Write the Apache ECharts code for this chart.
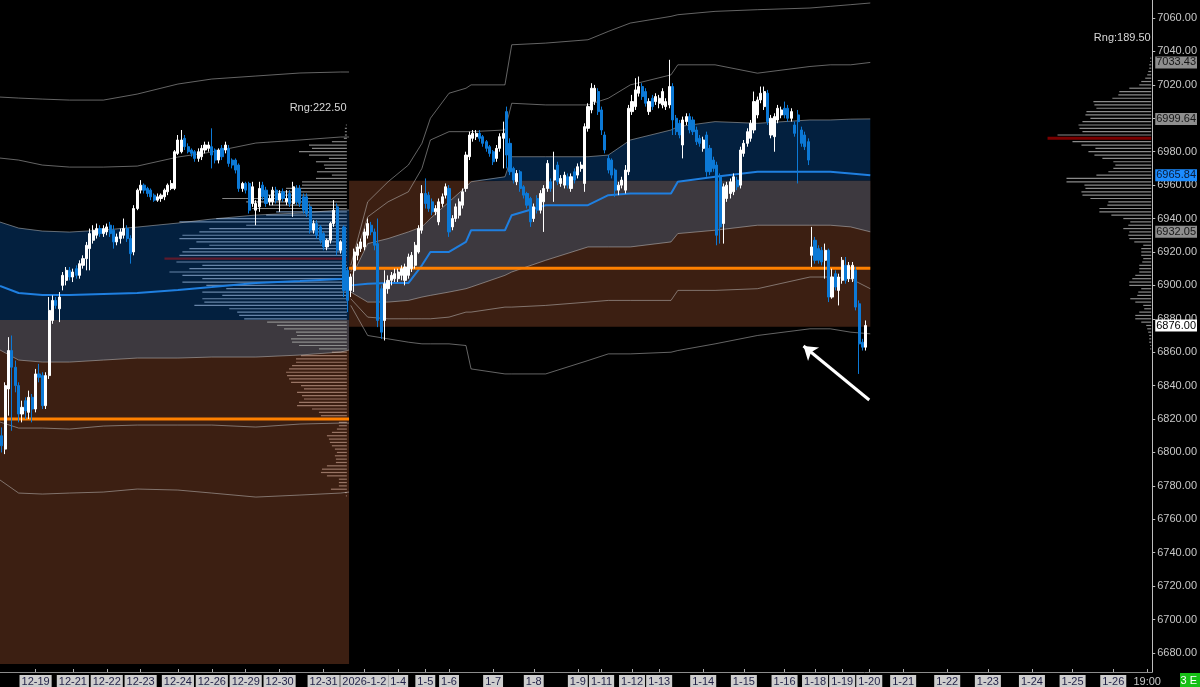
<!DOCTYPE html>
<html>
<head>
<meta charset="utf-8">
<script src="https://cdn.jsdelivr.net/npm/echarts@6/dist/echarts.min.js"></script>
<style>
  html, body { margin: 0; padding: 0; background: #000; }
  #chart { width: 1200px; height: 687px; }
</style>
</head>
<body>
<div id="chart"></div>
<script>
// price axis labels
const yTicks = [6680, 6700, 6720, 6740, 6760, 6780, 6800, 6820, 6840, 6860, 6880, 6900, 6920, 6940, 6960, 6980, 7000, 7020, 7040, 7060]

// day labels and the bar slot where each day starts
const dayLabels = ['12-19', '12-21', '12-22', '12-23', '12-24', '12-26', '12-29', '12-30', '12-31', '2026-1-2', '1-4', '1-5', '1-6', '1-7', '1-8', '1-9', '1-11', '1-12', '1-13', '1-14', '1-15', '1-16', '1-18', '1-19', '1-20', '1-21', '1-22', '1-23', '1-24', '1-25', '1-26', '19:00']
const daySlots = [10, 21, 31, 41, 52, 62, 72, 82, 95, 107, 117, 125, 132, 145, 157, 170, 177, 186, 194, 207, 219, 231, 240, 248, 256, 266, 279, 291, 304, 316, 328, 338]

// bars: [open, close, low, high]
const decBars = [
  [6810, 6804, 6800, 6815], [6802, 6840, 6799, 6842], [6838, 6861, 6822, 6869], [6861, 6851, 6813, 6870], [6851, 6840, 6836, 6855],
  [6840, 6823, 6818, 6842], [6823, 6827, 6818, 6831], [6831, 6825, 6820, 6833], [6824, 6833, 6820, 6837], [6833, 6826, 6818, 6835],
  [6826, 6847, 6824, 6850], [6847, 6845, 6842, 6853], [6846, 6828, 6826, 6848], [6828, 6846, 6826, 6848], [6846, 6885, 6844, 6893],
  [6879, 6891, 6877, 6894], [6891, 6888, 6886, 6893], [6886, 6893, 6878, 6896], [6900, 6906, 6897, 6908], [6903, 6909, 6900, 6911],
  [6909, 6905, 6903, 6911], [6905, 6908, 6902, 6910], [6910, 6906, 6904, 6912], [6906, 6913, 6904, 6915], [6912, 6916, 6910, 6918],
  [6916, 6924, 6909, 6926], [6922, 6931, 6909, 6934], [6927, 6933, 6925, 6936], [6930, 6934, 6928, 6937], [6934, 6931, 6929, 6936],
  [6931, 6934, 6929, 6936], [6932, 6935, 6930, 6937], [6936, 6931, 6929, 6938], [6933, 6926, 6922, 6936], [6926, 6929, 6924, 6931],
  [6928, 6932, 6925, 6934], [6930, 6934, 6928, 6940], [6934, 6928, 6926, 6936], [6928, 6919, 6913, 6930], [6920, 6946, 6918, 6948],
  [6946, 6957, 6945, 6958], [6957, 6960, 6955, 6963], [6960, 6957, 6955, 6961], [6958, 6955, 6953, 6959], [6957, 6953, 6951, 6958],
  [6954, 6951, 6950, 6955], [6951, 6953, 6950, 6955], [6952, 6954, 6950, 6955], [6953, 6957, 6951, 6958], [6956, 6960, 6954, 6961],
  [6958, 6961, 6957, 6963], [6958, 6980, 6957, 6981], [6979, 6987, 6978, 6990], [6980, 6987, 6979, 6993], [6988, 6983, 6981, 6990],
  [6983, 6980, 6979, 6985], [6981, 6979, 6977, 6982], [6980, 6976, 6974, 6981], [6976, 6980, 6974, 6982], [6977, 6982, 6975, 6984],
  [6981, 6984, 6979, 6986], [6982, 6984, 6980, 6986], [6983, 6978, 6970, 6994], [6981, 6975, 6973, 6982], [6975, 6981, 6973, 6982],
  [6982, 6977, 6975, 6984], [6981, 6984, 6979, 6986], [6982, 6973, 6971, 6984], [6975, 6972, 6970, 6976], [6975, 6969, 6967, 6976],
  [6972, 6958, 6956, 6973], [6958, 6961, 6956, 6962], [6961, 6957, 6955, 6962], [6961, 6945, 6943, 6962], [6949, 6959, 6947, 6962],
  [6945, 6949, 6936, 6951], [6947, 6958, 6944, 6962], [6960, 6953, 6951, 6962], [6957, 6949, 6947, 6959], [6950, 6952, 6948, 6954],
  [6950, 6957, 6948, 6959], [6957, 6951, 6949, 6959], [6951, 6955, 6944, 6957], [6956, 6952, 6950, 6958], [6950, 6952, 6948, 6957],
  [6955, 6949, 6947, 6957], [6949, 6959, 6941, 6962], [6958, 6950, 6948, 6960], [6958, 6949, 6947, 6960], [6953, 6945, 6943, 6955],
  [6953, 6943, 6941, 6955], [6947, 6933, 6931, 6949], [6933, 6937, 6931, 6939], [6937, 6930, 6928, 6939], [6935, 6927, 6925, 6936],
  [6931, 6923, 6921, 6932], [6923, 6927, 6921, 6928], [6927, 6937, 6925, 6938], [6937, 6945, 6935, 6951], [6947, 6921, 6918, 6949],
  [6921, 6926, 6919, 6927], [6935, 6897, 6893, 6936], [6909, 6891, 6884, 6911]
]
const janBars = [
  [6897, 6905, 6893, 6907], [6909, 6920, 6896, 6922],
  [6918, 6923, 6915, 6925], [6922, 6926, 6920, 6928], [6923, 6932, 6921, 6934], [6930, 6937, 6928, 6940], [6936, 6932, 6930, 6938],
  [6932, 6924, 6921, 6934], [6925, 6879, 6875, 6940], [6898, 6872, 6868, 6900], [6879, 6901, 6867, 6909], [6898, 6903, 6895, 6906],
  [6903, 6906, 6900, 6908], [6904, 6907, 6902, 6910], [6904, 6908, 6902, 6910], [6906, 6910, 6903, 6912], [6903, 6911, 6900, 6913],
  [6906, 6917, 6904, 6919], [6910, 6918, 6908, 6920], [6912, 6924, 6910, 6926], [6920, 6934, 6919, 6936], [6933, 6955, 6931, 6960],
  [6955, 6949, 6946, 6964], [6954, 6946, 6944, 6956], [6950, 6944, 6942, 6952], [6944, 6946, 6942, 6948], [6938, 6950, 6936, 6952],
  [6949, 6953, 6947, 6955], [6954, 6959, 6952, 6961], [6958, 6932, 6929, 6960], [6935, 6940, 6933, 6942], [6940, 6947, 6938, 6949],
  [6942, 6950, 6940, 6952], [6948, 6956, 6946, 6958], [6958, 6978, 6956, 6980], [6977, 6990, 6975, 6992], [6988, 6991, 6986, 6993],
  [6989, 6991, 6987, 6993], [6991, 6988, 6986, 6993], [6989, 6985, 6983, 6990], [6986, 6982, 6980, 6987], [6983, 6979, 6977, 6984],
  [6980, 6974, 6972, 6981], [6976, 6982, 6974, 6984], [6982, 6989, 6980, 6991], [6988, 6991, 6970, 6998], [7004, 6978, 6970, 7007],
  [6985, 6968, 6966, 6988], [6970, 6963, 6961, 6971], [6962, 6967, 6960, 6969], [6968, 6958, 6956, 6969], [6959, 6954, 6952, 6960],
  [6955, 6948, 6946, 6956], [6952, 6938, 6935, 6953], [6940, 6947, 6938, 6949], [6952, 6945, 6943, 6954], [6945, 6955, 6943, 6957],
  [6950, 6958, 6932, 6960], [6958, 6973, 6956, 6975], [6962, 6958, 6956, 6964], [6963, 6969, 6950, 6980], [6972, 6962, 6960, 6974],
  [6961, 6964, 6959, 6966], [6960, 6966, 6958, 6968], [6965, 6960, 6958, 6967], [6958, 6965, 6956, 6967], [6968, 6963, 6961, 6970],
  [6966, 6971, 6964, 6973], [6970, 6972, 6968, 6974], [6961, 6995, 6956, 6997], [6994, 7007, 6992, 7009], [7005, 7018, 7003, 7021],
  [7010, 7018, 7008, 7020], [7016, 7004, 7002, 7018], [7005, 6993, 6990, 7007], [6990, 6981, 6979, 6992], [6976, 6969, 6967, 6978],
  [6975, 6966, 6964, 6976], [6969, 6957, 6953, 6970], [6957, 6960, 6954, 6962], [6960, 6963, 6958, 6965], [6957, 6969, 6955, 6972],
  [6968, 7006, 6966, 7008], [7004, 7010, 7002, 7014], [7007, 7017, 7005, 7024], [7015, 7019, 7013, 7025], [7019, 7013, 7011, 7021],
  [7016, 7009, 7007, 7018], [7004, 7010, 7002, 7012], [7012, 7007, 7005, 7014], [7010, 7013, 7008, 7015], [7009, 7012, 7006, 7014],
  [7008, 7016, 7006, 7018], [7007, 7010, 7005, 7012], [7008, 7019, 7006, 7035], [7019, 6999, 6990, 7021], [7000, 6992, 6990, 7002],
  [6997, 6990, 6988, 6999], [6984, 6999, 6976, 7001], [6998, 7001, 6996, 7003], [7001, 6993, 6991, 7003], [6999, 6992, 6990, 7001],
  [6993, 6986, 6984, 6995], [6988, 6985, 6983, 6990], [6982, 6987, 6980, 6989], [6990, 6968, 6965, 6992], [6982, 6968, 6966, 6984],
  [6975, 6970, 6968, 6977], [6972, 6930, 6924, 6974], [6965, 6935, 6925, 6967], [6937, 6959, 6925, 6961], [6952, 6960, 6950, 6962],
  [6955, 6962, 6952, 6964], [6956, 6965, 6954, 6967], [6963, 6959, 6957, 6965], [6960, 6981, 6958, 6983], [6979, 6985, 6977, 6987],
  [6985, 6992, 6983, 6994], [6988, 6997, 6986, 6999], [6993, 7010, 6991, 7016], [7002, 7011, 7000, 7013], [7011, 7015, 7009, 7019],
  [7007, 7016, 7005, 7019], [7015, 6998, 6996, 7017], [6990, 7000, 6988, 7002], [6989, 7001, 6980, 7003], [6999, 7006, 6997, 7008],
  [7002, 7005, 7000, 7007], [7006, 7002, 7000, 7010], [7006, 7000, 6998, 7008], [7000, 7004, 6998, 7006], [6996, 6991, 6989, 6998],
  [7002, 6998, 6961, 7005], [6993, 6985, 6983, 6995], [6990, 6983, 6981, 6992], [6986, 6975, 6972, 6988], [6918, 6923, 6911, 6935],
  [6927, 6915, 6913, 6929], [6922, 6915, 6913, 6924], [6921, 6914, 6912, 6923], [6915, 6921, 6904, 6925], [6921, 6893, 6890, 6922],
  [6893, 6905, 6892, 6910], [6907, 6899, 6897, 6909], [6897, 6905, 6888, 6907], [6903, 6915, 6901, 6917], [6912, 6903, 6901, 6917],
  [6904, 6912, 6902, 6914], [6904, 6912, 6902, 6914], [6909, 6887, 6885, 6911], [6889, 6865, 6847, 6891], [6866, 6863, 6861, 6868],
  [6863, 6876, 6861, 6879]
]

// session edges (bar slots) and value areas [low, high]
const decEdges = [-0.5, 102.5]
const janEdges = [102.5, 256.3]
const decValueArea = [6673.4, 6879.3]
const janValueArea = [6875.2, 6962.6]
const decPoc = 6820
const janPoc = 6910.25

// vwap and deviation bands, sampled at bar slots
const decX = [-0.5, 5, 12, 20, 30, 40, 52, 62, 75, 88, 100, 102.5]
const decU3 = [7012.7, 7012.1, 7011.5, 7010.9, 7010.9, 7014.5, 7020.5, 7023.5, 7025.3, 7027.1, 7027.7, 7027.7]
const decU2 = [6976.2, 6975.0, 6972.0, 6970.8, 6970.8, 6971.4, 6976.8, 6979.8, 6985.2, 6987.0, 6988.8, 6988.8]
const decU1 = [6937.9, 6934.3, 6932.5, 6931.9, 6933.1, 6934.9, 6937.3, 6939.7, 6942.1, 6943.3, 6945.1, 6945.1]
const decVwap = [6899.6, 6895.4, 6894.2, 6894.2, 6894.8, 6895.4, 6897.2, 6899.0, 6901.4, 6902.6, 6903.8, 6903.8]
const decL1 = [6861.3, 6855.3, 6854.1, 6854.1, 6855.3, 6856.5, 6856.5, 6857.1, 6857.1, 6858.3, 6860.1, 6861.3]
const decL2 = [6818.2, 6814.6, 6814.6, 6814.0, 6815.8, 6816.4, 6816.4, 6816.4, 6815.2, 6817.0, 6817.6, 6817.6]
const decL3 = [6783.5, 6775.7, 6775.1, 6775.7, 6776.3, 6778.1, 6777.5, 6775.7, 6773.3, 6774.5, 6775.7, 6776.3]

const janX = [103, 108, 114, 120, 124, 126.5, 132, 137, 138.5, 148.5, 150.5, 160.5, 173, 179, 185.5, 197.5, 199.5, 210.5, 223, 238.5, 244.5, 250.5, 256.3]
const janU3 = [6912, 6950, 6962, 6972, 6985, 7000, 7015, 7018, 7020, 7020, 7044, 7045, 7047, 7052, 7057, 7061, 7062, 7064, 7065, 7066, 7067, 7068, 7069]
const janU2 = [6908, 6941, 6950, 6956, 6970, 6987, 6992, 6992, 6992, 6993, 7009, 7008, 7008, 7012, 7020, 7026, 7032, 7032, 7027, 7031, 7032, 7032, 7033.43]
const janU1 = [6904, 6925, 6928, 6932, 6935, 6940, 6950, 6959, 6962, 6965, 6977, 6977, 6977, 6978, 6987, 6993, 6995, 6998, 6997, 6999, 6999, 6999.5, 6999.64]
const janVwap = [6900, 6901, 6901.4, 6901.4, 6912, 6920, 6920, 6926, 6933, 6933, 6942, 6948, 6948, 6954, 6955, 6955, 6962, 6965, 6968, 6968, 6968, 6967, 6965.84]
const janL1 = [6896, 6890, 6890, 6891, 6893, 6894, 6896, 6898, 6899, 6906, 6908, 6915, 6923, 6923, 6923, 6926, 6931, 6933, 6936, 6936, 6936, 6935, 6932.05]
const janL2 = [6892, 6881, 6880, 6880, 6880, 6880, 6881, 6884, 6884, 6887, 6887, 6888, 6890, 6891, 6891, 6891, 6897, 6897, 6898, 6905, 6905, 6904, 6898]
const janL3 = [6888, 6870, 6868, 6866, 6865, 6865, 6865, 6864, 6850, 6847, 6847, 6847, 6855, 6859, 6859, 6860, 6861, 6865, 6870, 6874, 6874, 6872, 6871]

// volume profiles, one row every 2 points from the top price down
const decProfileTop = 6996
const decProfilePoc = 6916
const decProfile = [1, 2, 2, 2, 3, 15, 38, 35, 48, 38, 18, 31, 23, 22, 30, 15, 31, 45, 45, 61, 75, 85, 125, 101, 78, 95, 71, 81, 131, 168,
  101, 138, 148, 165, 168, 151, 138, 158, 165, 168, 183, 171, 145, 158, 178, 165, 145, 165, 141, 121, 145, 125, 145, 143, 153, 118, 110, 108, 103, 80,
  70, 63, 51, 50, 56, 55, 48, 28, 15, 46, 51, 51, 55, 58, 61, 60, 58, 56, 46, 43, 50, 45, 43, 48, 50, 35, 28, 26, 11, 8,
  8, 10, 15, 20, 18, 17, 15, 12, 10, 12, 11, 11, 20, 25, 26, 20, 8, 8, 8, 16, 2, 1]
const janProfileTop = 7036
const janProfilePoc = 6988
const janProfile = [1, 1, 2, 2, 3, 4, 6, 10, 12, 22, 32, 33, 39, 58, 57, 55, 65, 66, 61, 69, 73, 72, 69, 94, 104, 79, 70, 56, 63, 57,
  49, 38, 36, 38, 43, 55, 85, 85, 67, 66, 70, 69, 61, 43, 44, 52, 52, 40, 28, 21, 23, 28, 22, 23, 22, 17, 8, 10, 10, 10,
  8, 9, 12, 12, 12, 16, 19, 22, 22, 10, 13, 14, 21, 16, 8, 7, 12, 16, 16, 10, 5, 4, 3, 2, 2, 2, 1, 1]
const profileAnchors = [101.85, 339.2]

// right-edge price tags and range notes
const priceTags = [7033.43, 6999.64, 6965.84, 6932.05, 6876.00]
const rangeNotes = ['Rng:222.50', 'Rng:189.50']
const rangeNoteAt = [[101.9, 7006.1], [339.2, 7048.0]]
const arrowFrom = [256, 6831.4]
const arrowTo = [236.6, 6863.7]

const PROFILE_SCALE = 1 / 3.4
const bandColor = 'rgba(200, 200, 200, 0.5)'

const allBars = decBars.concat(janBars)

function fillBetween(xs, lower, upper, color, z) {
  return {
    type: 'custom',
    silent: true,
    z: z,
    data: [[xs[0], lower[0]]],
    renderItem: (params, api) => {
      const pts = []
      xs.forEach((x, k) => pts.push(api.coord([x, upper[k]])))
      for (let k = xs.length - 1; k >= 0; k--) pts.push(api.coord([xs[k], lower[k]]))
      return { type: 'polygon', shape: { points: pts }, style: { fill: color } }
    }
  }
}

function bandLine(xs, ys, color, width, z) {
  return {
    type: 'line',
    silent: true,
    z: z,
    symbol: 'none',
    data: xs.map((x, k) => [x, ys[k]]),
    lineStyle: { color: color, width: width }
  }
}

function profileSeries(anchor, top, vols, poc, colorOf, pocColor, pocHeight) {
  return {
    type: 'custom',
    silent: true,
    z: 3,
    data: vols.map((v, k) => [anchor, top - k * 2, v]),
    renderItem: (params, api) => {
      const price = api.value(1)
      const right = api.coord([api.value(0), price])
      const left = api.coord([api.value(0) - api.value(2) * PROFILE_SCALE, price])
      const isPoc = price === poc
      const h = isPoc ? pocHeight : 1.2
      return {
        type: 'rect',
        shape: { x: left[0], y: right[1] - h / 2, width: right[0] - left[0], height: h },
        style: { fill: isPoc ? pocColor : colorOf(price) }
      }
    }
  }
}

const decZoneColor = (p) => {
  if (p > decU1[decU1.length - 1]) return '#838383'
  if (p >= decValueArea[1]) return '#6784a8'
  if (p >= decL1[decL1.length - 1]) return '#8d8d8d'
  return '#997565'
}

const tagStyles = [
  { backgroundColor: '#8e8e8e', color: '#161616' },
  { backgroundColor: '#8e8e8e', color: '#161616' },
  { backgroundColor: '#1c8cff', color: '#0b1a33' },
  { backgroundColor: '#8e8e8e', color: '#161616' },
  { backgroundColor: '#ffffff', color: '#000000' }
]

const chart = echarts.init(document.getElementById('chart'))

const option = {
  backgroundColor: '#000000',
  animation: false,
  textStyle: { fontFamily: 'Liberation Sans, Arial, sans-serif' },
  grid: { left: 0, right: 44, top: 0, bottom: 15, containLabel: false },
  xAxis: {
    type: 'value',
    min: -0.5,
    max: 339.5,
    splitLine: { show: false },
    axisLine: { onZero: false, lineStyle: { color: '#8c8c8c', width: 1 } },
    axisTick: { show: true, inside: true, length: 3, customValues: daySlots, lineStyle: { color: '#b0b0b0' } },
    axisLabel: {
      customValues: daySlots,
      margin: 3,
      formatter: (v) => {
        const k = daySlots.indexOf(Math.round(v))
        const text = k >= 0 ? dayLabels[k] : ''
        return text.indexOf(':') >= 0 ? '{t|' + text + '}' : '{d|' + text + '}'
      },
      rich: {
        d: { backgroundColor: '#cdcdcd', color: '#1f1f45', fontSize: 11, padding: [1, 2, 0, 2], lineHeight: 12 },
        t: { color: '#c8c8c8', fontSize: 11, padding: [1, 2, 0, 2], lineHeight: 12 }
      }
    }
  },
  yAxis: {
    type: 'value',
    position: 'right',
    min: 6668.6,
    max: 7070.8,
    splitLine: { show: false },
    axisLine: { show: true, onZero: false, lineStyle: { color: '#bdbdbd' } },
    axisTick: { show: true, length: 3, customValues: yTicks, lineStyle: { color: '#bdbdbd' } },
    axisLabel: { customValues: yTicks, color: '#c8c8c8', fontSize: 11, margin: 5, formatter: (v) => v.toFixed(2) }
  },
  graphic: [
    { type: 'rect', right: 0, bottom: 0, shape: { width: 20, height: 14 }, style: { fill: '#16c016' } },
    { type: 'text', right: 3, bottom: 1, style: { text: '3 E', fill: '#ffffff', font: '11px Liberation Sans' } }
  ],
  series: [
    // value-area boxes
    fillBetween(decEdges, [decValueArea[0], decValueArea[0]], [decValueArea[1], decValueArea[1]], '#3c1f12', 1),
    fillBetween(janEdges, [janValueArea[0], janValueArea[0]], [janValueArea[1], janValueArea[1]], '#3c1f12', 1),
    // 1 sigma band: blue outside the box, grey inside it
    fillBetween(decX, decX.map(() => decValueArea[1]), decU1.map(v => Math.max(v, decValueArea[1])), '#03203f', 2),
    fillBetween(decX, decL1, decU1.map(v => Math.min(v, decValueArea[1])), '#3d393f', 2),
    fillBetween(janX, janX.map(() => janValueArea[1]), janU1.map(v => Math.max(v, janValueArea[1])), '#03203f', 2),
    fillBetween(janX, janL1.map(v => Math.max(v, janValueArea[0])), janU1.map(v => Math.min(v, janValueArea[1])), '#3d393f', 2),
    // volume profiles
    profileSeries(profileAnchors[0], decProfileTop, decProfile, decProfilePoc, decZoneColor, '#5e1a2c', 2.2),
    profileSeries(profileAnchors[1], janProfileTop, janProfile, janProfilePoc, () => '#8a8a8a', '#7a0000', 3),
    // deviation bands
    bandLine(decX, decU3, bandColor, 1, 4),
    bandLine(decX, decU2, bandColor, 1, 4),
    bandLine(decX, decU1, bandColor, 1, 4),
    bandLine(decX, decL1, bandColor, 1, 4),
    bandLine(decX, decL2, bandColor, 1, 4),
    bandLine(decX, decL3, bandColor, 1, 4),
    bandLine(janX, janU3, bandColor, 1, 4),
    bandLine(janX, janU2, bandColor, 1, 4),
    bandLine(janX, janU1, bandColor, 1, 4),
    bandLine(janX, janL1, bandColor, 1, 4),
    bandLine(janX, janL2, bandColor, 1, 4),
    bandLine(janX, janL3, bandColor, 1, 4),
    // vwap
    bandLine(decX, decVwap, '#1f7fe0', 2, 4),
    bandLine(janX, janVwap, '#1f7fe0', 2, 4),
    // prior session poc
    bandLine(decEdges, [decPoc, decPoc], '#ff8000', 3, 5),
    bandLine(janEdges, [janPoc, janPoc], '#ff8000', 3, 5),
    {
      type: 'candlestick',
      z: 6,
      barWidth: 2.6,
      data: allBars.map((b, i) => [i, b[0], b[1], b[2], b[3]]),
      itemStyle: {
        color: '#ffffff',
        color0: '#0c79d6',
        borderColor: '#ffffff',
        borderColor0: '#0c79d6',
        borderWidth: 1
      }
    },
    {
      type: 'line',
      z: 7,
      data: [],
      silent: true,
      markLine: {
        silent: true,
        symbol: ['none', 'arrow'],
        symbolSize: 13,
        label: { show: false },
        lineStyle: { color: '#ffffff', width: 3, type: 'solid' },
        data: [[{ coord: arrowFrom }, { coord: arrowTo }]]
      },
      markPoint: {
        silent: true,
        symbol: 'circle',
        symbolSize: 1,
        itemStyle: { color: 'rgba(0,0,0,0)' },
        label: { show: true, position: 'left', distance: 0, color: '#d8d8d8', fontSize: 11, formatter: (p) => p.name },
        data: rangeNotes.map((t, k) => ({ name: t, coord: rangeNoteAt[k] }))
      }
    },
    {
      type: 'line',
      z: 8,
      data: [],
      silent: true,
      markLine: {
        silent: true,
        symbol: 'none',
        lineStyle: { color: 'rgba(0,0,0,0)', width: 0, type: 'solid' },
        data: priceTags.map((v, k) => ({
          yAxis: v,
          label: {
            show: true,
            position: 'end',
            distance: 3,
            fontSize: 11,
            padding: [1, 1, 0, 1],
            formatter: v.toFixed(2),
            backgroundColor: tagStyles[k].backgroundColor,
            color: tagStyles[k].color
          }
        }))
      }
    }
  ]
}

chart.setOption(option)
</script>
</body>
</html>
